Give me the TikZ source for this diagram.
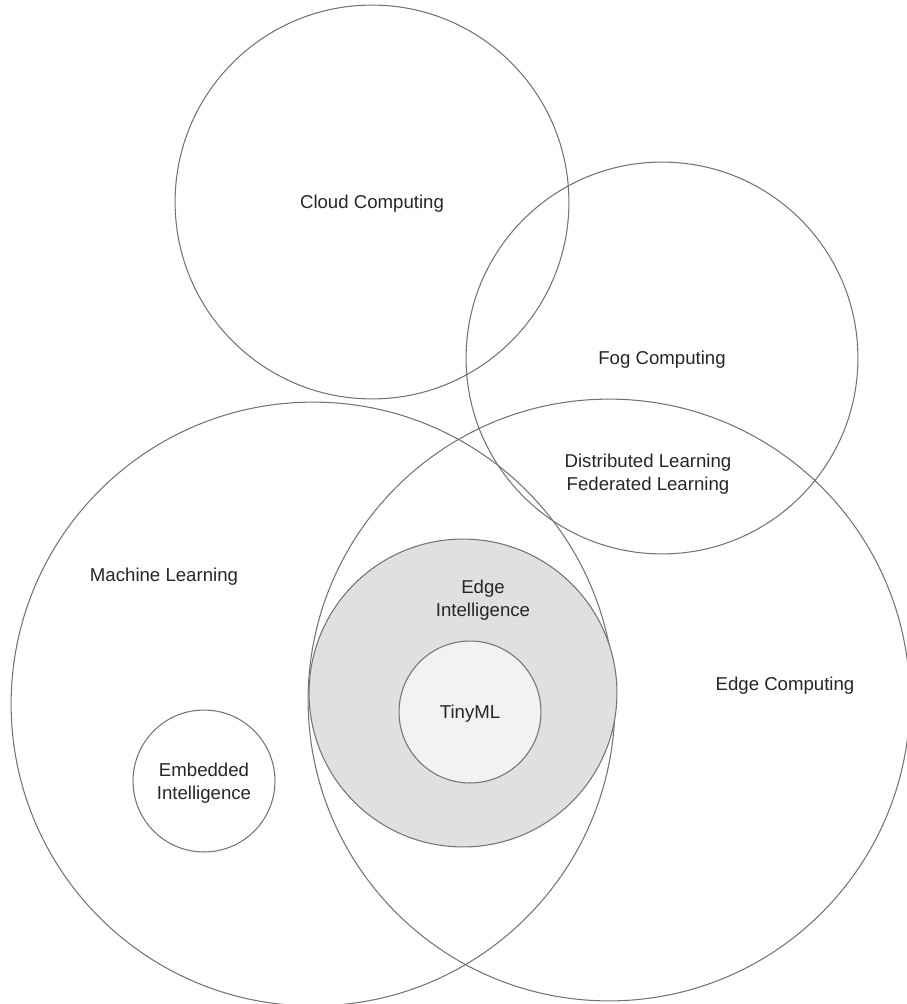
\documentclass[tikz,border=0pt]{standalone}
\usepackage{fontspec}
\setmainfont{Liberation Sans}
\newcommand\vennfont{\fontsize{10.6}{13}\selectfont}
\begin{document}
\begin{tikzpicture}[x=0.02cm, y=-0.02cm]
    \tikzset{
        set/.style={circle, draw=black!55, line width=0.6pt, inner sep=0pt,
            minimum size=#1*0.04cm, font=\vennfont, text=black!85, align=center},
        lbl/.style={font=\vennfont, text=black!85, align=center},
    }
    \useasboundingbox (0,0) rectangle (906,1004);

    % Big sets
    \node[set=197] (cloud) at (372,202) {};
    \node[set=196] (fog) at (662,358) {};
    \node[set=302] (ml) at (313,704) {};
    \node[set=301] (edge) at (609,700) {};

    % Inner sets
    \node[set=154, fill=black!12] (ei) at (463,693) {};
    \node[set=71, fill=black!5] (tiny) at (470,712) {};
    \node[set=71] (emb) at (204,781) {};

    % Labels
    \node[lbl] (cloudtext) at (372,204) {Cloud Computing};
    \node[lbl] (fogtext) at (662,360) {Fog Computing};
    \node[lbl] (mltext) at (164,577) {Machine Learning};
    \node[lbl] (edgetext) at (785,686) {Edge Computing};
    \node[lbl] (eitext) at (483,600) {Edge\\Intelligence};
    \node[lbl] (dltext) at (648,474) {Distributed Learning\\Federated Learning};
    \node[lbl] (tinytext) at (470,714) {TinyML};
    \node[lbl] (embtext) at (204,783) {Embedded\\Intelligence};
\end{tikzpicture}
\end{document}
